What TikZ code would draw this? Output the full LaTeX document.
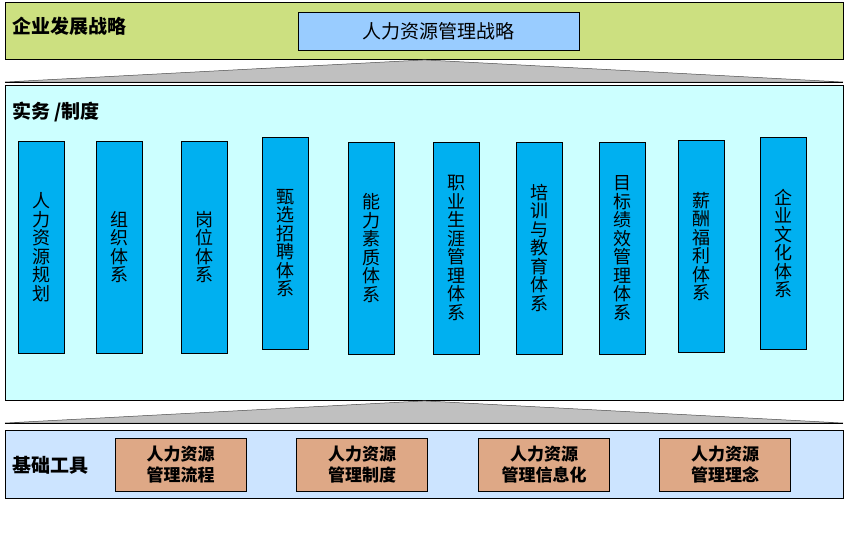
\documentclass[tikz,border=0pt]{standalone}
\usepackage{fontspec}
\setmainfont{Noto Sans CJK SC}
\usetikzlibrary{calc}

\definecolor{stratbg}{RGB}{204,224,128}
\definecolor{hrbox}{RGB}{153,204,255}
\definecolor{practbg}{RGB}{204,255,255}
\definecolor{colfill}{RGB}{0,176,240}
\definecolor{toolbg}{RGB}{204,228,255}
\definecolor{toolfill}{RGB}{222,168,134}
\definecolor{tri}{RGB}{192,192,192}

\begin{document}
\begin{tikzpicture}[x=1pt, y=-1pt,
  band/.style={draw=black, line width=0.9pt, inner sep=0pt, minimum width=838, anchor=north west},
  head/.style={font=\fontsize{19}{19}\selectfont\bfseries, anchor=west, inner sep=0pt},
  sysbar/.style={draw=black, line width=0.8pt, fill=colfill, inner sep=0pt,
    minimum width=46, minimum height=212, align=center,
    font=\fontsize{18}{18.5}\selectfont},
  toolbox/.style={draw=black, line width=0.8pt, fill=toolfill, inner sep=0pt,
    minimum width=131, minimum height=53, align=center,
    font=\fontsize{17}{21.5}\selectfont\bfseries},
  pyramid/.style={fill=tri, draw=black!70, line width=0.5pt},
]
\useasboundingbox (0,0) rectangle (848,546);

% ======================= Row 1: strategy =======================
\node[band, fill=stratbg, minimum height=57] (stratband) at (5,2) {};
\node[head] (stratlabel) at (12,26) {企业发展战略};
\node[draw=black, line width=0.8pt, fill=hrbox, minimum width=281, minimum height=38,
  inner sep=0pt, font=\fontsize{19}{19}\selectfont] (hrstrat) at (438.5,31) {人力资源管理战略};

% ======================= Row 2: practice / systems =============
\coordinate (topL) at (5,82);
\coordinate (topR) at (843,82);
\draw[pyramid] (stratband.south) -- (topR) -- (topL) -- cycle;
\draw[line width=1pt] (topL) -- (topR);

\node[band, fill=practbg, minimum height=315] (practband) at (5,85) {};
\node[head] (practlabel) at (12,112) {实务 /制度};

\node[sysbar] (c1)  at (41,247)    {人\\力\\资\\源\\规\\划};
\node[sysbar] (c2)  at (119,247)   {组\\织\\体\\系};
\node[sysbar] (c3)  at (204,247)   {岗\\位\\体\\系};
\node[sysbar] (c4)  at (285,243)   {甄\\选\\招\\聘\\体\\系};
\node[sysbar] (c5)  at (371,248)   {能\\力\\素\\质\\体\\系};
\node[sysbar] (c6)  at (456,248)   {职\\业\\生\\涯\\管\\理\\体\\系};
\node[sysbar] (c7)  at (539.5,248) {培\\训\\与\\教\\育\\体\\系};
\node[sysbar] (c8)  at (622.5,248) {目\\标\\绩\\效\\管\\理\\体\\系};
\node[sysbar] (c9)  at (701,246.5) {薪\\酬\\福\\利\\体\\系};
\node[sysbar] (c10) at (783,243.5) {企\\业\\文\\化\\体\\系};

% ======================= Row 3: base tools =====================
\coordinate (botL) at (5,423);
\coordinate (botR) at (843,423);
\draw[pyramid] (practband.south) -- (botR) -- (botL) -- cycle;
\draw[line width=1pt] (botL) -- (botR);

\node[band, fill=toolbg, minimum height=68] (toolband) at (5,430) {};
\node[head] (toollabel) at (12,465) {基础工具};

\node[toolbox] (t1) at (180.5,464.5) {人力资源\\管理流程};
\node[toolbox] (t2) at (362,464.5)   {人力资源\\管理制度};
\node[toolbox] (t3) at (544,464.5)   {人力资源\\管理信息化};
\node[toolbox] (t4) at (725,464.5)   {人力资源\\管理理念};

\end{tikzpicture}
\end{document}
